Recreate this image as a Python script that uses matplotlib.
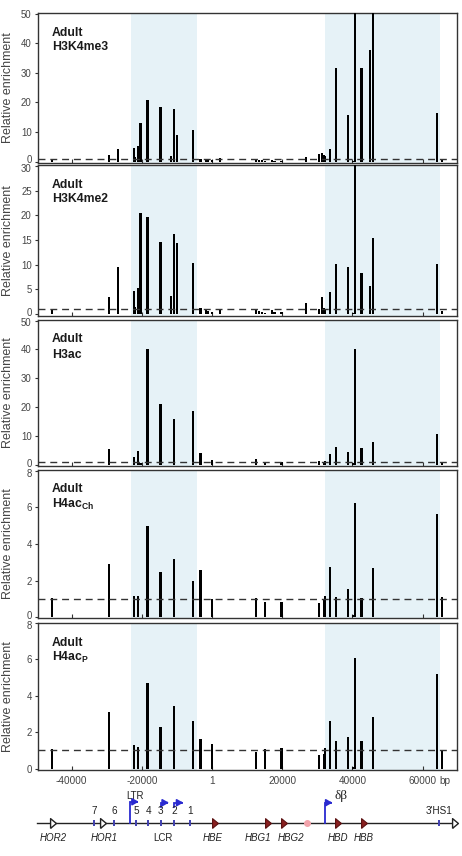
import matplotlib
matplotlib.use('Agg')
import matplotlib.pyplot as plt
from matplotlib.transforms import blended_transform_factory, ScaledTranslation

plt.rcParams['font.family'] = ['Liberation Sans', 'DejaVu Sans']
plt.rcParams['mathtext.fontset'] = 'custom'
plt.rcParams['mathtext.rm'] = 'Liberation Sans'
plt.rcParams['mathtext.bf'] = 'Liberation Sans:bold'

# ---------------- data ----------------
positions = [-45500, -29400, -26700, -22300, -21900, -21100, -20400, -18400, -14700, -11700,
             -10900, -10000, -5500, -3300, -1800, -1100, 0, 2300, 12500, 13500,
             14300, 15100, 17200, 17800, 19800, 26800, 30600, 31300, 31800, 32300,
             33700, 35300, 38700, 40300, 40800, 42600, 45000, 45900, 64100, 65600]

h3k4me3 = [0.8, 2.2, 4.1, 4.7, 1.5, 5.4, 12.9, 20.8, 18.4, 1.8,
           17.8, 9.0, 10.6, 0.7, 0.5, 0.5, 0.6, 1.1, 0.6, 0.5,
           0.5, 0.3, 0.6, 0.3, 0.3, 1.5, 2.5, 2.8, 2.3, 1.8,
           4.2, 31.6, 15.8, 0.3, 60, 31.8, 37.8, 60, 16.3, 0.7]
h3k4me2 = [1.1, 3.5, 9.5, 4.7, 1.5, 5.2, 20.5, 19.7, 14.6, 3.7,
           16.3, 14.3, 10.4, 1.3, 0.8, 0.7, 0.4, 0.8, 0.9, 0.6,
           0.5, 0.3, 0.9, 0.4, 0.4, 2.2, 1.0, 3.4, 1.2, 1.0,
           4.5, 10.1, 9.6, 0.3, 40, 8.4, 5.6, 15.4, 10.1, 0.6]
h3ac = [0, 5.4, 0, 2.6, 0, 4.7, 0.5, 40, 21.1, 0,
        15.8, 0, 18.6, 4.2, 0, 0, 1.6, 0, 2.1, 0,
        0, 1.1, 0, 0, 1.1, 0, 1.4, 0, 1.0, 1.4,
        3.7, 6.2, 4.4, 0.5, 40, 6.0, 0, 7.9, 10.8, 1.1]
h4ac_ch = [1.04, 2.93, 0, 1.16, 0, 1.16, 0, 4.98, 2.49, 0,
           3.16, 0, 2.0, 2.58, 0, 0, 1.0, 0, 1.04, 0,
           0, 0.82, 0, 0, 0.82, 0, 0.76, 0, 0.95, 1.18,
           2.73, 1.12, 1.53, 0.15, 6.22, 1.07, 0, 2.69, 5.62, 1.12]
h4ac_p = [1.05, 3.1, 0, 1.3, 0, 1.2, 0, 4.7, 2.3, 0,
          3.45, 0, 2.6, 1.6, 0, 0, 1.35, 0, 0.9, 0,
          0, 1.1, 0, 0, 1.15, 0, 0.75, 0, 0.8, 1.15,
          2.6, 1.5, 1.75, 0.1, 6.05, 1.5, 0, 2.85, 5.2, 1.0]

panel_titles = ['H3K4me3', 'H3K4me2', 'H3ac', r'H4ac$_{\mathbf{Ch}}$', r'H4ac$_{\mathbf{P}}$']
panel_values = [h3k4me3, h3k4me2, h3ac, h4ac_ch, h4ac_p]
panel_ylims = [(-0.5, 50.3), (-0.4, 30.2), (-0.4, 50.2), (-0.04, 8.04), (-0.08, 8.0)]
panel_yticks = [[0, 10, 20, 30, 40, 50], [0, 5, 10, 15, 20, 25, 30], [0, 10, 20, 30, 40, 50],
                [0, 2, 4, 6, 8], [0, 2, 4, 6, 8]]
shaded_regions = [(-23070, -4270), (32180, 64930)]
xtick_pos = [-40000, -20000, 0, 20000, 40000, 60000]
xtick_lab = ['-40000', '-20000', '1', '20000', '40000', '60000']

# gene map
hs_sites = [-33500, -27900, -21600, -18200, -14600, -10700, -6300, 64800]
hs_labels = ['7', '6', '5', '4', '3', '2', '1', "3'HS1"]
hor_pos = [-45400, -31000]
hor_names = ['HOR2', 'HOR1']
gene_pos = [850, 15900, 20500, 36000, 43300]
gene_names = ['HBE', 'HBG1', 'HBG2', 'HBD', 'HBB']
gene_label_x = [300, 13100, 22500, 35900, 43300]
pseudo_pos = [27200]

# ---------------- layout ----------------
W, H = 462, 856
fig = plt.figure(figsize=(W / 100, H / 100), dpi=100)
XL, XR = -49600, 69900
ax_left, ax_right = 38, 457.3
panel_px = [(13, 163), (165, 316), (320, 466), (470, 618), (623, 770)]

def rect(top, bot):
    return [ax_left / W, 1 - bot / H, (ax_right - ax_left) / W, (bot - top) / H]

edge = '#333333'
n_panels = len(panel_values)
for i, (vals, title, ylim, yt) in enumerate(zip(panel_values, panel_titles, panel_ylims, panel_yticks)):
    top, bot = panel_px[i]
    ax = fig.add_axes(rect(top, bot))
    for a, b in shaded_regions:
        ax.axvspan(a, b, color='#e6f2f7', zorder=0, lw=0)
    ax.bar(positions, vals, width=620, color='black', lw=0, zorder=3)
    ax.axhline(1, color='#333333', lw=1.0, ls=(0, (5, 3.5)), zorder=4)
    ax.set_xlim(XL, XR)
    ax.set_ylim(*ylim)
    ax.set_yticks(yt)
    ax.set_xticks(xtick_pos)
    for s in ax.spines.values():
        s.set_color(edge)
        s.set_linewidth(1.0)
    ax.tick_params(axis='y', direction='out', length=2.5, width=0.8, color=edge,
                   labelsize=6.9, labelcolor='#444444', pad=2)
    ax.tick_params(axis='x', direction='in', length=3, width=0.8, color=edge,
                   labelsize=7.2, labelcolor='#444444', pad=4, top=False)
    # separate the stacked '0' / top labels a little, as in the reference
    ticks = ax.yaxis.get_major_ticks()
    if i < n_panels - 1:
        lab = ticks[0].label1
        lab.set_transform(lab.get_transform() + ScaledTranslation(0, 2.3 / 100, fig.dpi_scale_trans))
    if i > 0:
        lab = ticks[-1].label1
        lab.set_transform(lab.get_transform() + ScaledTranslation(0, -1.8 / 100, fig.dpi_scale_trans))
    if i < n_panels - 1:
        ax.set_xticklabels([])
    else:
        ax.set_xticklabels(xtick_lab)
        tr = blended_transform_factory(ax.transData, ax.transAxes)
        ax.text(66300, -0.072, 'bp', transform=tr, fontsize=7.2, color='#444444',
                ha='center', va='center')
    hpx = bot - top
    tx = (52 - ax_left) / (ax_right - ax_left)
    ax.text(tx, 1 - 19.5 / hpx, 'Adult', transform=ax.transAxes, fontsize=8.8,
            fontweight='bold', color='#1a1a1a', ha='left', va='center')
    ax.text(tx, 1 - 34.5 / hpx, title, transform=ax.transAxes, fontsize=8.8,
            fontweight='bold', color='#1a1a1a', ha='left', va='center')
    fig.text(8 / W, 1 - ((top + bot) / 2) / H, 'Relative enrichment', rotation=90,
             fontsize=9, color='#444444', ha='center', va='center')

# ---------------- gene map ----------------
mp = fig.add_axes([ax_left / W, 1 - 852 / H, (ax_right - ax_left) / W, 67 / H])
mp.set_xlim(XL, XR)
mp.set_ylim(852, 785)
mp.axis('off')
LY = 822.7
blue = '#2a2ad0'
tri = [(-0.6, -1), (0.6, 0), (-0.6, 1), (-0.6, -1)]
mp.plot([XL - 300, 69300], [LY, LY], color='#222222', lw=1.0, clip_on=False, zorder=1)
mp.plot([69300], [LY], marker=tri, ms=7, mfc='white', mec='#222222', mew=1.0,
        clip_on=False, zorder=3)
for x in hor_pos:
    mp.plot([x], [LY], marker=tri, ms=7, mfc='white', mec='#222222', mew=1.0, zorder=3)
for x in gene_pos:
    mp.plot([x], [LY], marker=tri, ms=7, mfc='#8a2020', mec='#5a1010', mew=0.8, zorder=3)
for x in pseudo_pos:
    mp.plot([x], [LY], marker='o', ms=4, mfc='#f2a3ab', mec='#f2a3ab', zorder=3)
for x in hs_sites:
    mp.plot([x], [LY], marker='|', ms=5, mew=1.4, color='#4040b0', zorder=2)
for x, lab in zip(hs_sites, hs_labels):
    mp.text(x, 811.5, lab, fontsize=7.2, color='#222222', ha='center', va='center')
for x, lab in zip(hor_pos, hor_names):
    mp.text(x + 200, 838, lab, fontsize=7, style='italic', color='#222222',
            ha='center', va='center')
for x, lab in zip(gene_label_x, gene_names):
    mp.text(x, 838, lab, fontsize=7, style='italic', color='#222222',
            ha='center', va='center')
mp.text(-13900, 838, 'LCR', fontsize=7, color='#222222', ha='center', va='center')
mp.text(-22000, 796, 'LTR', fontsize=7, color='#222222', ha='center', va='center')
mp.text(36900, 796.5, 'δβ', fontsize=9.5, family='Liberation Serif', color='#222222',
        ha='center', va='center')

def bent(x0, y0, y1, x1):
    mp.plot([x0, x0, x1 - 500], [y0, y1, y1], color=blue, lw=1.3, zorder=2,
            solid_joinstyle='miter')
    mp.annotate('', xy=(x1, y1), xytext=(x1 - 900, y1),
                arrowprops=dict(arrowstyle='-|>,head_length=0.35,head_width=0.2',
                                color=blue, lw=1.3, shrinkA=0, shrinkB=0))

bent(-23400, LY, 801.8, -20900)
bent(-14600, 807.5, 802.7, -12300)
bent(-10700, 807.5, 802.7, -8200)
bent(32200, LY, 802.7, 34300)

fig.savefig('out.png', dpi=100)
